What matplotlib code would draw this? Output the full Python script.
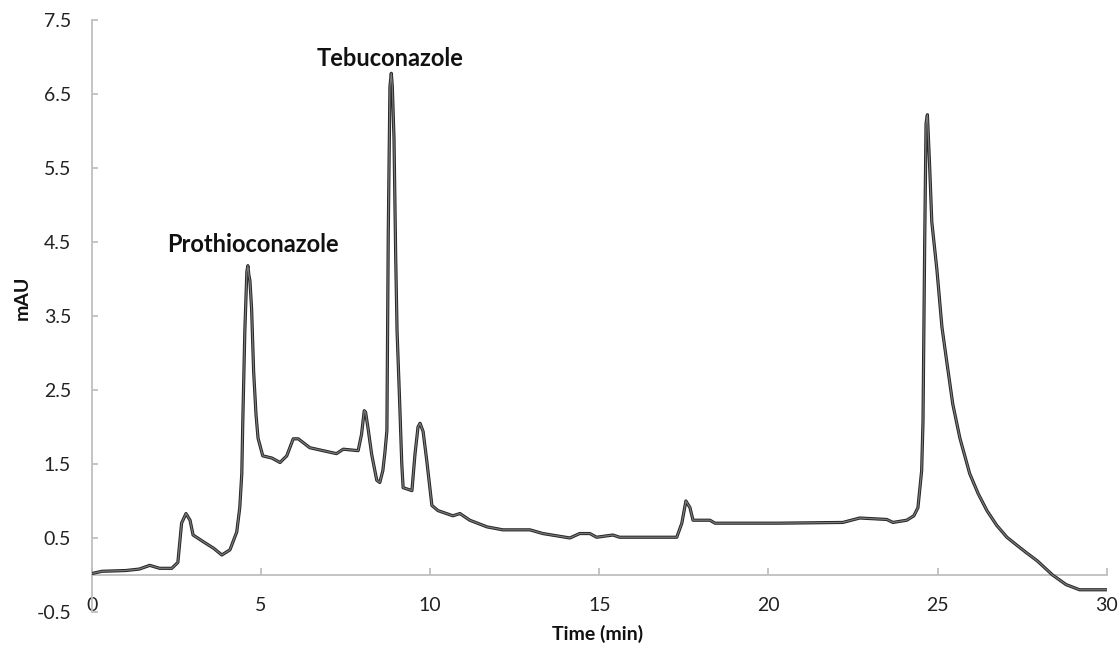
import numpy as np
import matplotlib.pyplot as plt

# chromatogram trace: time (min), absorbance (mAU)
time_min = [0.0, 0.3, 1.0, 1.4, 1.71, 2.0, 2.36, 2.54, 2.65, 2.78, 2.9, 2.99, 3.29, 3.6,
            3.84, 4.08, 4.28, 4.37, 4.43, 4.46, 4.52, 4.58, 4.61, 4.64, 4.67, 4.72, 4.78,
            4.85, 4.91, 5.05, 5.32, 5.56, 5.76, 5.95, 6.1, 6.44, 6.83, 7.23, 7.43, 7.87,
            7.97, 8.05, 8.09, 8.16, 8.27, 8.42, 8.51, 8.6, 8.66, 8.72, 8.76, 8.81, 8.85,
            8.88, 8.93, 8.98, 9.02, 9.1, 9.16, 9.2, 9.46, 9.55, 9.64, 9.7, 9.79, 9.9,
            10.05, 10.23, 10.67, 10.88, 11.17, 11.68, 12.15, 12.95, 13.33, 14.13, 14.42,
            14.72, 14.92, 15.4, 15.6, 17.29, 17.44, 17.56, 17.68, 17.77, 18.27, 18.42,
            20.3, 22.2, 22.7, 23.5, 23.68, 24.09, 24.3, 24.42, 24.53, 24.57, 24.62, 24.66,
            24.7, 24.77, 24.83, 24.98, 25.13, 25.27, 25.45, 25.66, 25.95, 26.2, 26.46,
            26.75, 27.05, 27.35, 27.63, 27.95, 28.4, 28.8, 29.2, 30.0]
absorbance = [0.02, 0.05, 0.06, 0.08, 0.13, 0.09, 0.09, 0.17, 0.7, 0.83, 0.74, 0.54, 0.45,
              0.36, 0.27, 0.34, 0.58, 0.91, 1.37, 2.08, 3.3, 4.1, 4.18, 4.05, 3.98, 3.6,
              2.75, 2.17, 1.85, 1.61, 1.58, 1.52, 1.61, 1.84, 1.84, 1.72, 1.68, 1.64,
              1.70, 1.68, 1.9, 2.22, 2.2, 1.99, 1.63, 1.28, 1.25, 1.41, 1.65, 1.95, 4.6,
              6.6, 6.78, 6.6, 5.9, 4.3, 3.3, 2.3, 1.5, 1.18, 1.14, 1.63, 2.0, 2.05, 1.94,
              1.54, 0.94, 0.87, 0.80, 0.83, 0.74, 0.65, 0.61, 0.61, 0.56, 0.50, 0.56,
              0.56, 0.51, 0.54, 0.51, 0.51, 0.70, 1.0, 0.91, 0.74, 0.74, 0.70, 0.70,
              0.71, 0.77, 0.75, 0.71, 0.74, 0.8, 0.91, 1.41, 2.08, 4.5, 6.1, 6.22, 5.48,
              4.77, 4.13, 3.35, 2.89, 2.31, 1.85, 1.37, 1.1, 0.87, 0.67, 0.51, 0.4,
              0.30, 0.19, 0.0, -0.13, -0.2, -0.2]

peak_names = ['Prothioconazole', 'Tebuconazole']
peak_label_pos = [(4.76, 4.47), (8.81, 6.98)]

x_ticks = [0, 5, 10, 15, 20, 25, 30]
y_ticks = [-0.5, 0.5, 1.5, 2.5, 3.5, 4.5, 5.5, 6.5, 7.5]

plt.rcParams['font.family'] = ['Lato', 'DejaVu Sans']

fig = plt.figure(figsize=(11.2, 6.45), dpi=100)
ax = fig.add_axes([0.0821, 0.0512, 0.906, 0.9178])

ax.plot(time_min, absorbance, color='#262626', lw=2.3, solid_joinstyle='round', zorder=3)
ax.plot(time_min, absorbance, color='#7a7a7a', lw=0.9, solid_joinstyle='round', zorder=4)

ax.set_xlim(0, 30)
ax.set_ylim(-0.5, 7.5)
ax.set_xticks(x_ticks)
ax.set_yticks(y_ticks)
ax.set_yticklabels(['%g' % v for v in y_ticks])

for side in ['top', 'right']:
    ax.spines[side].set_visible(False)
ax.spines['bottom'].set_position(('data', 0))
for side in ['bottom', 'left']:
    ax.spines[side].set_color('#bfbfbf')
    ax.spines[side].set_linewidth(1.3)

ax.tick_params(axis='x', direction='in', length=5, width=1.3, color='#bfbfbf',
               pad=16, labelsize=14, labelcolor='#222222')
ax.tick_params(axis='y', direction='in', length=4, width=1.3, color='#bfbfbf',
               pad=15, labelsize=14, labelcolor='#222222')

for name, (tx, ty) in zip(peak_names, peak_label_pos):
    ax.text(tx, ty, name, ha='center', va='center', fontsize=17, fontweight='bold',
            color='#111111')

fig.text(22 / 1120, 1 - 298 / 645, 'mAU', rotation=90, ha='center', va='center',
         fontsize=14, fontweight='bold', color='#111111')
fig.text(598 / 1120, 1 - 634 / 645, 'Time (min)', ha='center', va='center',
         fontsize=14, fontweight='bold', color='#111111')

fig.savefig('out.png', dpi=100)
